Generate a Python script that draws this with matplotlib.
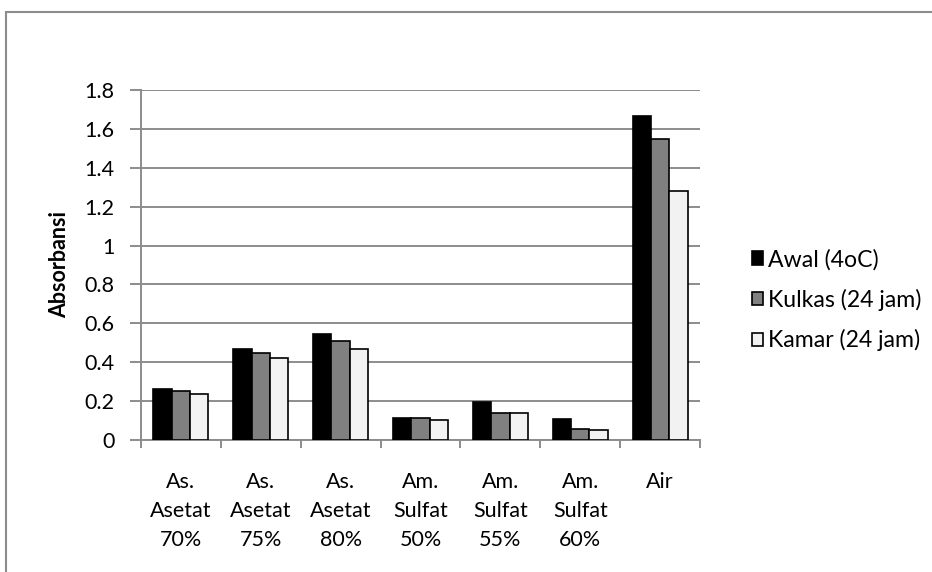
import matplotlib
matplotlib.use("Agg")
import matplotlib.pyplot as plt
import numpy as np
from matplotlib.patches import Rectangle

plt.rcParams['font.family'] = ['Lato', 'DejaVu Sans']

categories = ["As.\nAsetat\n70%", "As.\nAsetat\n75%", "As.\nAsetat\n80%",
              "Am.\nSulfat\n50%", "Am.\nSulfat\n55%", "Am.\nSulfat\n60%", "Air"]
series_names = ["Awal (4oC)", "Kulkas (24 jam)", "Kamar (24 jam)"]
awal = [0.262, 0.470, 0.545, 0.112, 0.193, 0.110, 1.666]
kulkas = [0.250, 0.450, 0.510, 0.115, 0.138, 0.055, 1.547]
kamar = [0.236, 0.422, 0.470, 0.102, 0.138, 0.052, 1.279]
yticks = [0, 0.2, 0.4, 0.6, 0.8, 1, 1.2, 1.4, 1.6, 1.8]

colors = ["#000000", "#808080", "#f2f2f2"]
W, H = 932, 572
fig = plt.figure(figsize=(W / 100, H / 100), dpi=100)
ax = fig.add_axes([141 / W, 1 - 440 / H, (700 - 141) / W, (440 - 90) / H])

x = np.arange(len(categories))
bw = 0.23
for i, (vals, name) in enumerate(zip([awal, kulkas, kamar], series_names)):
    ax.bar(x + (i - 1) * bw, vals, bw, color=colors[i], edgecolor="#000000",
           linewidth=1.2, label=name, zorder=3)

ax.set_xlim(-0.5, len(categories) - 0.5)
ax.set_ylim(0, 1.8)
ax.set_yticks(yticks)
ax.set_yticklabels([f"{t:g}" for t in yticks], fontsize=15.5)
ax.yaxis.grid(True, color="#8c8c8c", linewidth=1.4, zorder=0)
ax.set_axisbelow(True)

ax.set_xticks(x)
ax.set_xticklabels(categories, fontsize=15.5, linespacing=1.55)
ax.tick_params(axis="x", length=0, pad=23)
ax.set_xticks(np.arange(len(categories) + 1) - 0.5, minor=True)
ax.tick_params(axis="x", which="minor", length=6, width=1.4, color="#8c8c8c", direction="out")
ax.tick_params(axis="y", length=8, width=1.4, color="#8c8c8c", direction="out", pad=11)

for s in ["top", "right"]:
    ax.spines[s].set_visible(False)
for s in ["left", "bottom"]:
    ax.spines[s].set_color("#8c8c8c")
    ax.spines[s].set_linewidth(1.4)

ax.set_ylabel("Absorbansi", fontsize=15.5, fontweight="bold", labelpad=10)

leg = ax.legend(loc="center left", bbox_to_anchor=(1.0, 0.40), frameon=False,
                fontsize=16.6, handlelength=0.5, handleheight=0.5,
                handletextpad=0.2, labelspacing=0.8, borderaxespad=1.85)

# outer chart frame
fig.patches.append(Rectangle((6 / W, -0.05), 1.0, 1 - 12 / H + 0.05,
                             transform=fig.transFigure, fill=False,
                             edgecolor="#8c8c8c", linewidth=1.5))

fig.savefig("out.png", dpi=100)
